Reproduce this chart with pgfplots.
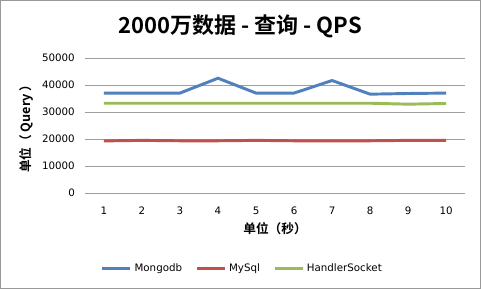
\documentclass[border=0pt]{standalone}
\usepackage{pgfplots}
\pgfplotsset{compat=1.18}
\usepackage{fontspec}
\setmainfont{DejaVu Sans}
\newfontfamily\cjk{Noto Sans CJK SC}[BoldFont={Noto Sans CJK SC Bold}]
\definecolor{mblue}{HTML}{4F81BD}
\definecolor{mred}{HTML}{C0504D}
\definecolor{mgreen}{HTML}{9BBB59}
\begin{document}
\begin{tikzpicture}
\draw[draw=gray!80,fill=white] (0.375pt,0.375pt) rectangle (360.375pt,216.375pt);
\node[font=\cjk\bfseries\fontsize{16.5}{18}\selectfont] at (180pt,196.5pt) {2000万数据 - 查询 - QPS};
\begin{axis}[
  at={(63.75pt,71.8pt)}, anchor=south west,
  scale only axis, width=285pt, height=101.25pt,
  xmin=0.5, xmax=10.5, ymin=0, ymax=50000,
  xtick={1,...,10}, ytick={0,10000,...,50000},
  axis line style={draw=none},
  major tick length=0pt,
  ymajorgrids, grid style={gray!75, line width=0.6pt},
  /pgf/number format/assume math mode=true,
  scaled y ticks=false,
  yticklabel style={/pgf/number format/1000 sep={}},
  ticklabel style={font=\fontsize{7.7}{9}\selectfont},
  xticklabel style={yshift=-7pt},
  yticklabel style={xshift=-4pt},
  xlabel={\cjk\bfseries 单位（秒）}, xlabel style={font=\fontsize{9.5}{10}\selectfont, yshift=1pt},
  ylabel={\cjk\bfseries 单位（ Query ）}, ylabel style={font=\fontsize{9.5}{10}\selectfont, yshift=0pt},
  legend style={at={(0.415,-0.56)}, anchor=center, draw=none, fill=none, legend columns=3,
    font=\fontsize{7.7}{9}\selectfont, /tikz/every even column/.append style={column sep=8pt}},
  legend image code/.code={\draw[#1] (0pt,0pt) -- (21pt,0pt);},
  every axis plot/.append style={line width=2.2pt, mark=none},
]
\addplot[mblue] coordinates {(1,37050) (2,37050) (3,37050) (4,42550) (5,37050) (6,37050) (7,41700) (8,36650) (9,36900) (10,37050)};
\addlegendentry{Mongodb}
\addplot[mred] coordinates {(1,19350) (2,19550) (3,19400) (4,19400) (5,19550) (6,19400) (7,19400) (8,19400) (9,19550) (10,19550)};
\addlegendentry{MySql}
\addplot[mgreen] coordinates {(1,33300) (2,33300) (3,33300) (4,33300) (5,33300) (6,33300) (7,33300) (8,33300) (9,32950) (10,33200)};
\addlegendentry{HandlerSocket}
\end{axis}
\end{tikzpicture}
\end{document}
